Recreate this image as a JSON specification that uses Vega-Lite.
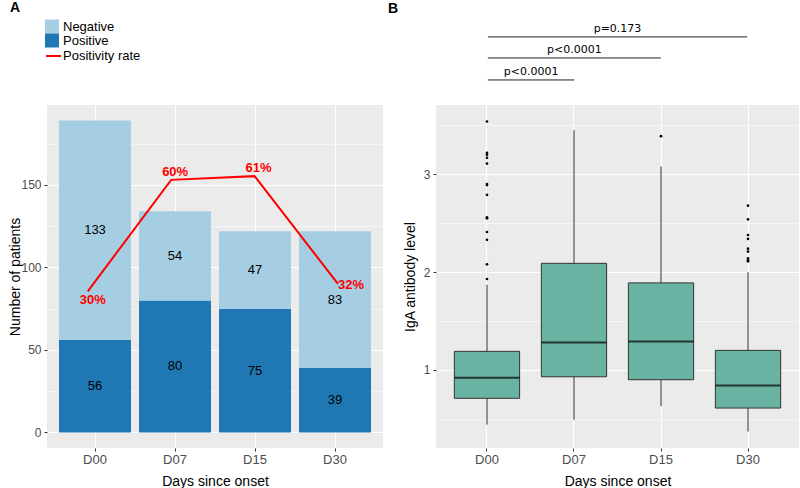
{
  "$schema": "https://vega.github.io/schema/vega-lite/v6.json",
  "padding": {"left": 8, "top": 0, "right": 0, "bottom": 0},
  "background": "white",
  "spacing": 5,
  "config": {
    "font": "Liberation Sans",
    "view": {"fill": "#EBEBEB", "stroke": null},
    "axis": {
      "domain": false,
      "tickColor": "#333333",
      "tickSize": 3,
      "labelColor": "#4D4D4D",
      "labelFontSize": 12,
      "labelFont": "Liberation Sans",
      "labelPadding": 3,
      "titleFont": "Liberation Sans",
      "titleFontSize": 14,
      "titleFontWeight": "normal",
      "titleColor": "black",
      "gridColor": "white"
    }
  },
  "datasets": {
    "counts": [
      {"day": "D00", "status": "Positive", "count": 56},
      {"day": "D00", "status": "Negative", "count": 133},
      {"day": "D07", "status": "Positive", "count": 80},
      {"day": "D07", "status": "Negative", "count": 54},
      {"day": "D15", "status": "Positive", "count": 75},
      {"day": "D15", "status": "Negative", "count": 47},
      {"day": "D30", "status": "Positive", "count": 39},
      {"day": "D30", "status": "Negative", "count": 83}
    ],
    "rates": [
      {"day": "D00", "rate": 0.30, "label": "30%"},
      {"day": "D07", "rate": 0.60, "label": "60%"},
      {"day": "D15", "rate": 0.61, "label": "61%"},
      {"day": "D30", "rate": 0.32, "label": "32%"}
    ],
    "boxes": [
      {"day": "D00", "lower": 0.44, "q1": 0.71, "median": 0.92, "q3": 1.19, "upper": 1.87},
      {"day": "D07", "lower": 0.49, "q1": 0.93, "median": 1.28, "q3": 2.09, "upper": 3.45},
      {"day": "D15", "lower": 0.63, "q1": 0.90, "median": 1.29, "q3": 1.89, "upper": 3.08},
      {"day": "D30", "lower": 0.37, "q1": 0.61, "median": 0.84, "q3": 1.20, "upper": 2.00}
    ],
    "outliers": [
      {"day": "D00", "value": 3.54}, {"day": "D00", "value": 3.22}, {"day": "D00", "value": 3.20},
      {"day": "D00", "value": 3.17}, {"day": "D00", "value": 3.11}, {"day": "D00", "value": 2.90},
      {"day": "D00", "value": 2.89}, {"day": "D00", "value": 2.79}, {"day": "D00", "value": 2.56},
      {"day": "D00", "value": 2.55}, {"day": "D00", "value": 2.41}, {"day": "D00", "value": 2.33},
      {"day": "D00", "value": 2.08}, {"day": "D00", "value": 1.93},
      {"day": "D15", "value": 3.39},
      {"day": "D30", "value": 2.68}, {"day": "D30", "value": 2.54}, {"day": "D30", "value": 2.38},
      {"day": "D30", "value": 2.34}, {"day": "D30", "value": 2.24}, {"day": "D30", "value": 2.21},
      {"day": "D30", "value": 2.14}, {"day": "D30", "value": 2.12}, {"day": "D30", "value": 2.11}
    ],
    "brackets": [
      {"label": "p=0.173", "start": 1, "end": 4, "mid": 2.5, "level": 4.405},
      {"label": "p<0.0001", "start": 1, "end": 3, "mid": 2, "level": 4.19},
      {"label": "p<0.0001", "start": 1, "end": 2, "mid": 1.5, "level": 3.965}
    ]
  },
  "hconcat": [
    {
      "width": 336,
      "height": 343,
      "title": {"text": "A", "anchor": "start", "frame": "group", "dx": -37, "fontSize": 14, "fontWeight": "bold", "offset": 76.5, "baseline": "bottom", "font": "Liberation Sans", "color": "black"},
      "layer": [
        {
          "data": {"name": "counts"},
          "layer": [
            {
              "mark": {"type": "bar"},
              "encoding": {
                "x": {"field": "day", "type": "nominal", "scale": {"paddingInner": 0.1, "paddingOuter": 0.15},
                  "axis": {"title": "Days since onset", "labelAngle": 0, "bandPosition": 0.5, "grid": true, "gridWidth": 1.1, "labelFontSize": 13, "labelPadding": 2, "titlePadding": 8}},
                "y": {"field": "count", "type": "quantitative", "stack": "zero",
                  "scale": {"domain": [-9.45, 198.45], "nice": false, "zero": false},
                  "axis": {"title": "Number of patients", "values": [0, 25, 50, 75, 100, 125, 150, 175],
                    "labelExpr": "datum.value % 50 === 0 ? datum.label : ''",
                    "tickOpacity": {"condition": {"test": "datum.value % 50 !== 0", "value": 0}, "value": 1},
                    "gridWidth": {"condition": {"test": "datum.value % 50 !== 0", "value": 0.5}, "value": 1.1},
                    "titlePadding": -2}},
                "order": {"field": "status", "sort": "descending"},
                "fill": {"field": "status", "type": "nominal",
                  "scale": {"domain": ["Negative", "Positive"], "range": ["#A6CEE3", "#1F78B4"]},
                  "legend": {"title": null, "orient": "none", "legendX": -2, "legendY": -85.5, "direction": "vertical",
                    "symbolType": "square", "symbolSize": 196, "symbolStrokeWidth": 0, "labelFontSize": 13,
                    "labelFont": "Liberation Sans", "labelColor": "black", "rowPadding": 0, "labelOffset": 4, "padding": 0}}
              }
            },
            {
              "mark": {"type": "text", "fontSize": 13, "color": "black", "font": "Liberation Sans"},
              "encoding": {
                "x": {"field": "day", "type": "nominal"},
                "y": {"field": "count", "type": "quantitative", "stack": "zero", "bandPosition": 0.5,
                  "scale": {"domain": [-9.45, 198.45], "nice": false, "zero": false}},
                "order": {"field": "status", "sort": "descending"},
                "detail": {"field": "status", "type": "nominal"},
                "text": {"field": "count", "type": "quantitative"}
              }
            }
          ]
        },
        {
          "data": {"name": "rates"},
          "encoding": {
            "x": {"field": "day", "type": "nominal", "scale": {"type": "point", "padding": 0.514, "align": 0.475}, "axis": null},
            "y": {"field": "rate", "type": "quantitative", "scale": {"domain": [-0.1214, 0.8014], "nice": false, "zero": false}, "axis": null}
          },
          "layer": [
            {
              "mark": {"type": "line", "strokeWidth": 2},
              "encoding": {
                "stroke": {"datum": "Positivity rate", "type": "nominal", "scale": {"range": ["#FF0000"]},
                  "legend": {"title": null, "orient": "none", "legendX": -2, "legendY": -57.5, "symbolType": "stroke",
                    "symbolSize": 225, "symbolStrokeWidth": 2, "labelFontSize": 13, "labelFont": "Liberation Sans",
                    "labelColor": "black", "labelOffset": 1, "padding": 0}}
              }
            },
            {
              "transform": [{"filter": "datum.day === 'D00'"}],
              "mark": {"type": "text", "color": "#FF0000", "fontWeight": "bold", "fontSize": 13, "font": "Liberation Sans", "dx": 5, "dy": 9},
              "encoding": {"text": {"field": "label"}}
            },
            {
              "transform": [{"filter": "datum.day === 'D07' || datum.day === 'D15'"}],
              "mark": {"type": "text", "color": "#FF0000", "fontWeight": "bold", "fontSize": 13, "font": "Liberation Sans", "dx": 4, "dy": -8},
              "encoding": {"text": {"field": "label"}}
            },
            {
              "transform": [{"filter": "datum.day === 'D30'"}],
              "mark": {"type": "text", "color": "#FF0000", "fontWeight": "bold", "fontSize": 13, "font": "Liberation Sans", "align": "left", "dx": 0, "dy": 1},
              "encoding": {"text": {"field": "label"}}
            }
          ]
        }
      ],
      "resolve": {"scale": {"x": "independent", "y": "independent"}}
    },
    {
      "width": 363,
      "height": 343,
      "title": {"text": "B", "anchor": "start", "frame": "group", "dx": -48, "fontSize": 14, "fontWeight": "bold", "offset": -7, "baseline": "bottom", "font": "Liberation Sans", "color": "black"},
      "layer": [
        {
          "encoding": {
            "x": {"field": "day", "type": "nominal", "scale": {"paddingInner": 0.25, "paddingOuter": 0.211},
              "axis": {"title": "Days since onset", "labelAngle": 0, "bandPosition": 0.5, "grid": true, "gridWidth": 1.1, "labelFontSize": 13, "labelPadding": 2, "titlePadding": 8}}
          },
          "layer": [
            {
              "data": {"name": "boxes"},
              "mark": {"type": "rule", "color": "#1a1a1a", "strokeWidth": 0.9},
              "encoding": {
                "y": {"field": "lower", "type": "quantitative", "scale": {"domain": [0.2016, 3.709], "nice": false, "zero": false},
                  "axis": {"title": "IgA antibody level", "values": [0.5, 1, 1.5, 2, 2.5, 3, 3.5],
                    "labelExpr": "datum.value % 1 === 0 ? format(datum.value, 'd') : ''",
                    "tickOpacity": {"condition": {"test": "datum.value % 1 !== 0", "value": 0}, "value": 1},
                    "gridWidth": {"condition": {"test": "datum.value % 1 !== 0", "value": 0.5}, "value": 1.1},
                    "titlePadding": 6}},
                "y2": {"field": "upper"}
              }
            },
            {
              "data": {"name": "boxes"},
              "mark": {"type": "bar", "fill": "#69B3A2", "stroke": "#333333", "strokeWidth": 1},
              "encoding": {
                "y": {"field": "q1", "type": "quantitative", "scale": {"domain": [0.2016, 3.709], "nice": false, "zero": false}},
                "y2": {"field": "q3"}
              }
            },
            {
              "data": {"name": "boxes"},
              "mark": {"type": "tick", "color": "black", "thickness": 2, "size": 65},
              "encoding": {
                "y": {"field": "median", "type": "quantitative", "scale": {"domain": [0.2016, 3.709], "nice": false, "zero": false}}
              }
            },
            {
              "data": {"name": "outliers"},
              "mark": {"type": "circle", "color": "black", "size": 7, "opacity": 1},
              "encoding": {
                "y": {"field": "value", "type": "quantitative", "scale": {"domain": [0.2016, 3.709], "nice": false, "zero": false}}
              }
            }
          ]
        },
        {
          "data": {"name": "brackets"},
          "layer": [
            {
              "mark": {"type": "rule", "color": "#222222", "strokeWidth": 1},
              "encoding": {
                "x": {"field": "start", "type": "quantitative", "scale": {"domain": [0.4, 4.6], "nice": false, "zero": false}, "axis": null},
                "x2": {"field": "end"},
                "y": {"field": "level", "type": "quantitative", "scale": {"domain": [0.2016, 3.709], "nice": false, "zero": false}}
              }
            },
            {
              "mark": {"type": "text", "font": "DejaVu Sans", "fontSize": 11, "color": "black", "baseline": "bottom", "dy": -3},
              "encoding": {
                "x": {"field": "mid", "type": "quantitative", "scale": {"domain": [0.4, 4.6], "nice": false, "zero": false}, "axis": null},
                "y": {"field": "level", "type": "quantitative", "scale": {"domain": [0.2016, 3.709], "nice": false, "zero": false}},
                "text": {"field": "label"}
              }
            }
          ]
        }
      ],
      "resolve": {"scale": {"x": "independent"}}
    }
  ]
}
